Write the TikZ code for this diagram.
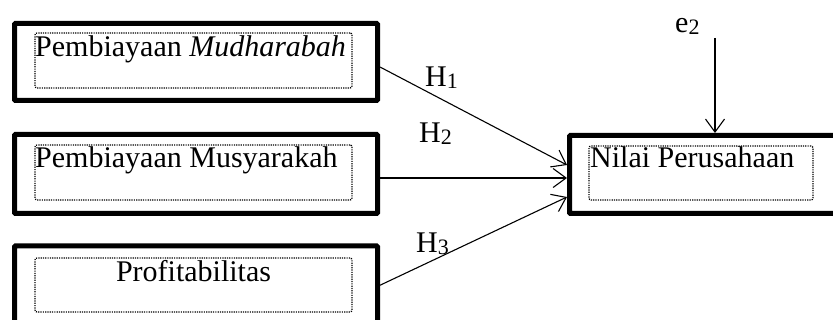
\documentclass[tikz,border=0pt]{standalone}
\usepackage{fontspec}
\setmainfont{Liberation Serif}
\usetikzlibrary{arrows.meta}
\begin{document}
\begin{tikzpicture}[x=1pt,y=-1pt,
  varbox/.style={draw, line width=5pt, rounded corners=1pt, inner sep=0pt},
  fieldbox/.style={draw, line width=1.3pt, dash pattern=on 1.2pt off 1.1pt,
    rounded corners=2pt, inner sep=0pt},
  label/.style={inner sep=0pt, anchor=base west, font=\fontsize{30}{36}\selectfont},
  path/.style={draw, line width=1.1pt, -{Straight Barb[length=13pt, width=19pt, line width=1.1pt]}},
]
\useasboundingbox (0,0) rectangle (833,320);
\fill[white] (0,0) rectangle (833,320);
\clip (0,0) rectangle (833,320);

% variable boxes
\node[varbox, minimum width=363pt, minimum height=77pt]   (b1) at (196,62) {};
\node[varbox, minimum width=363pt, minimum height=79pt]   (b2) at (196,174) {};
\node[varbox, minimum width=363pt, minimum height=78.5pt] (b3) at (196,285.25) {};
\node[varbox, minimum width=268.5pt, minimum height=78pt] (b4) at (703.75,174.5) {};

% dotted text fields
\node[fieldbox, minimum width=317pt, minimum height=55pt] (f1) at (193.5,60.5) {};
\node[fieldbox, minimum width=317pt, minimum height=55pt] (f2) at (193.5,172.5) {};
\node[fieldbox, minimum width=317pt, minimum height=54pt] (f3) at (193.5,285) {};
\node[fieldbox, minimum width=224pt, minimum height=54pt] (f4) at (701,173) {};

% box texts
\node[label] (t1) at (35,57) {Pembiayaan \textit{Mudharabah}};
\node[label] (t2) at (35,168) {Pembiayaan Musyarakah};
\node[label, anchor=base] (t3) at (193.5,282) {Profitabilitas};
\node[label] (t4) at (590,168) {Nilai Perusahaan};

% hypothesis labels
\newcommand{\subidx}[1]{\raisebox{-2pt}{\fontsize{22}{22}\selectfont #1}}
\node[label] (h1) at (425,87)  {H\subidx{1}};
\node[label] (h2) at (419,143) {H\subidx{2}};
\node[label] (h3) at (416,253) {H\subidx{3}};
\node[label] (e2) at (675,33)  {e\subidx{2}};

% paths
\coordinate (etop) at (715,38);
\path[path] ([yshift=-5pt]b1.east) -- ([yshift=9.5pt]b4.west);
\path[path] ([yshift=-4pt]b2.east) -- ([yshift=-3.5pt]b4.west);
\path[path] (b3.east) -- ([yshift=-22.5pt]b4.west);
\path[path] (etop) -- (etop |- b4.north);
\end{tikzpicture}
\end{document}
